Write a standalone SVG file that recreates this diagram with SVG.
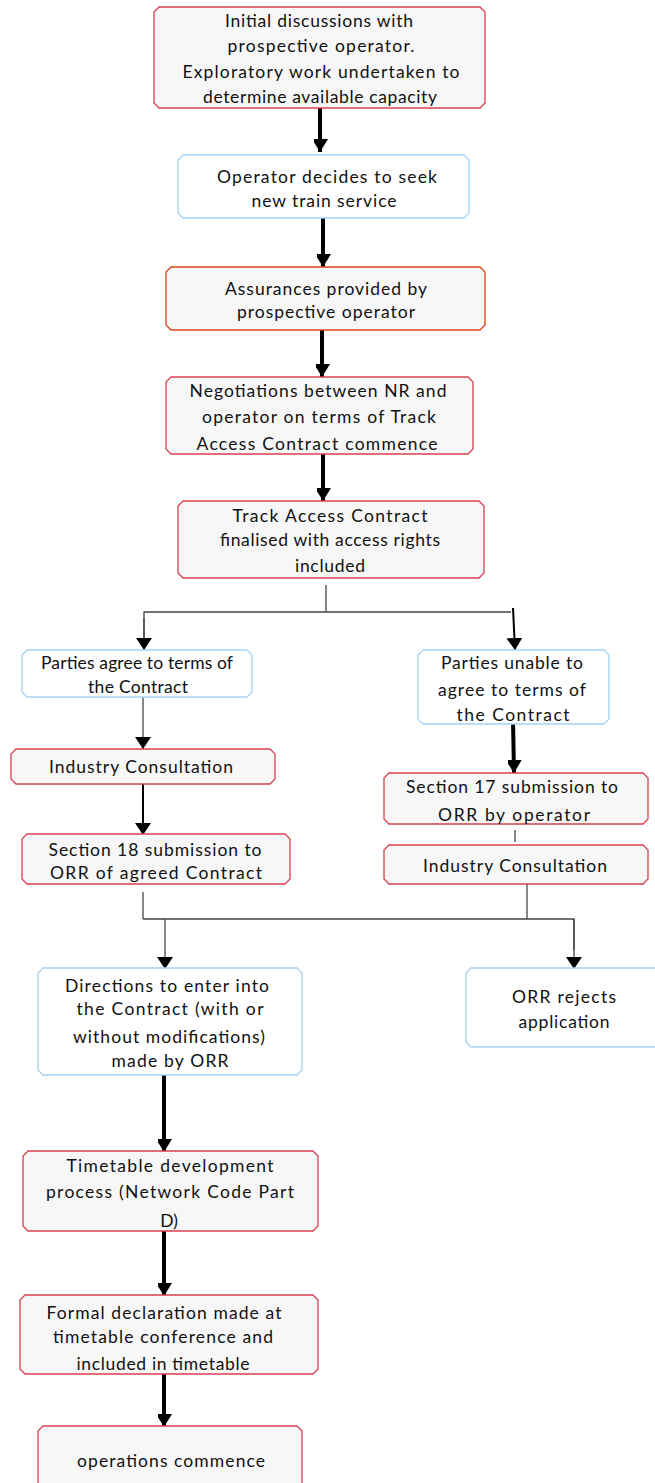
<svg xmlns="http://www.w3.org/2000/svg" width="655" height="1483" viewBox="0 0 655 1483">
<style>
.red{fill:#f7f7f7;stroke:#d9404e;stroke-width:1.3}
.org{fill:#f7f7f7;stroke:#d8441a;stroke-width:1.3}
.blue{fill:#ffffff;stroke:#a6d2f2;stroke-width:1.3}
text{font-family:Lato,"Liberation Sans",sans-serif;font-size:17.5px;fill:#111;text-anchor:middle}
.thick{stroke:#000;stroke-width:4;fill:none}
.thin{stroke:#444;stroke-width:1.3;fill:none}
.mid{stroke:#000;stroke-width:2;fill:none}
</style>
<defs>
<marker id="hb" markerUnits="userSpaceOnUse" markerWidth="18" markerHeight="14" refX="13" refY="8" orient="auto">
<path d="M0,0 L13,8 L0,16 Z" fill="#000"/>
</marker>
<marker id="hs" markerUnits="userSpaceOnUse" markerWidth="14" markerHeight="16" refX="12" refY="8" orient="auto">
<path d="M0,0 L12,8 L0,16 Z" fill="#000"/>
</marker>
</defs>
<rect width="655" height="1483" fill="#fff"/>
<g id="connectors">
<line class="thick" x1="320" y1="108" x2="320" y2="152" marker-end="url(#hb)"/>
<line class="thick" x1="323" y1="216" x2="323" y2="267" marker-end="url(#hb)"/>
<line class="thick" x1="322" y1="330" x2="322" y2="377" marker-end="url(#hb)"/>
<line class="thick" x1="323" y1="447" x2="323" y2="501" marker-end="url(#hb)"/>
<line class="thin" x1="326" y1="585" x2="326" y2="612"/>
<polyline class="thin" points="144,650 144,612 511,612"/>
<line class="thin" x1="144" y1="618" x2="144" y2="650" marker-end="url(#hs)"/>
<line class="mid" x1="513" y1="608" x2="515" y2="650" marker-end="url(#hs)"/>
<line class="thin" x1="143" y1="697" x2="143" y2="749" marker-end="url(#hs)"/>
<line class="mid" x1="143" y1="784" x2="143" y2="835" marker-end="url(#hs)"/>
<line class="thick" x1="513" y1="720" x2="514" y2="773" marker-end="url(#hb)"/>
<line class="thin" x1="515" y1="830" x2="515" y2="842"/>
<line class="thin" x1="143" y1="892" x2="143" y2="919"/>
<line class="thin" x1="527" y1="884" x2="527" y2="919"/>
<polyline class="thin" points="143,919 574,919 574,950"/>
<line class="thin" x1="574" y1="919" x2="574" y2="969" marker-end="url(#hs)"/>
<line class="thin" x1="165" y1="919" x2="165" y2="969" marker-end="url(#hs)"/>
<line class="thick" x1="164" y1="1072" x2="164" y2="1152" marker-end="url(#hb)"/>
<line class="thick" x1="164" y1="1231" x2="164" y2="1296" marker-end="url(#hb)"/>
<line class="thick" x1="164" y1="1374" x2="164" y2="1427" marker-end="url(#hb)"/>
</g>
<g id="n1">
<path class="red" d="M159,7 H480 L485,12 V103 L480,108 H159 L154,103 V12 Z"/>
<text x="319" y="27" textLength="188" lengthAdjust="spacing">Initial discussions with</text>
<text x="321" y="52" textLength="187" lengthAdjust="spacing">prospective operator.</text>
<text x="321" y="78" textLength="277" lengthAdjust="spacing">Exploratory work undertaken to</text>
<text x="320" y="103" textLength="234" lengthAdjust="spacing">determine available capacity</text>
</g>
<g id="n2">
<path class="blue" d="M183,155 H464 L469,160 V213 L464,218 H183 L178,213 V160 Z"/>
<text x="327" y="183" textLength="220" lengthAdjust="spacing">Operator decides to seek</text>
<text x="324" y="207" textLength="145" lengthAdjust="spacing">new train service</text>
</g>
<g id="n3">
<path class="org" d="M171,267 H480 L485,272 V325 L480,330 H171 L166,325 V272 Z"/>
<text x="326" y="295" textLength="202" lengthAdjust="spacing">Assurances provided by</text>
<text x="326" y="318" textLength="178" lengthAdjust="spacing">prospective operator</text>
</g>
<g id="n4">
<path class="red" d="M171,377 H468 L473,382 V449 L468,454 H171 L166,449 V382 Z"/>
<text x="318" y="397" textLength="257" lengthAdjust="spacing">Negotiations between NR and</text>
<text x="319" y="423" textLength="234" lengthAdjust="spacing">operator on terms of Track</text>
<text x="317" y="450" textLength="241" lengthAdjust="spacing">Access Contract commence</text>
</g>
<g id="n5">
<path class="red" d="M183,501 H479 L484,506 V573 L479,578 H183 L178,573 V506 Z"/>
<text x="330" y="522" textLength="195" lengthAdjust="spacing">Track Access Contract</text>
<text x="330" y="546" textLength="220" lengthAdjust="spacing">finalised with access rights</text>
<text x="330" y="572" textLength="70" lengthAdjust="spacing">included</text>
</g>
<g id="n6">
<path class="blue" d="M27,650 H247 L252,655 V692 L247,697 H27 L22,692 V655 Z"/>
<text x="137" y="669" textLength="192" lengthAdjust="spacing">Parties agree to terms of</text>
<text x="138" y="693" textLength="100" lengthAdjust="spacing">the Contract</text>
</g>
<g id="n7">
<path class="red" d="M16,749 H270 L275,754 V779 L270,784 H16 L11,779 V754 Z"/>
<text x="141" y="773" textLength="184" lengthAdjust="spacing">Industry Consultation</text>
</g>
<g id="n8">
<path class="red" d="M27,834 H285 L290,839 V879 L285,884 H27 L22,879 V839 Z"/>
<text x="155" y="856" textLength="213" lengthAdjust="spacing">Section 18 submission to</text>
<text x="156" y="879" textLength="212" lengthAdjust="spacing">ORR of agreed Contract</text>
</g>
<g id="n9">
<path class="blue" d="M423,650 H604 L609,655 V719 L604,724 H423 L418,719 V655 Z"/>
<text x="512" y="669" textLength="142" lengthAdjust="spacing">Parties unable to</text>
<text x="512" y="696" textLength="148" lengthAdjust="spacing">agree to terms of</text>
<text x="513" y="721" textLength="113" lengthAdjust="spacing">the Contract</text>
</g>
<g id="n10">
<path class="red" d="M389,773 H643 L648,778 V819 L643,824 H389 L384,819 V778 Z"/>
<text x="512" y="793" textLength="212" lengthAdjust="spacing">Section 17 submission to</text>
<text x="514" y="821" textLength="152" lengthAdjust="spacing">ORR by operator</text>
</g>
<g id="n11">
<path class="red" d="M389,845 H643 L648,850 V879 L643,884 H389 L384,879 V850 Z"/>
<text x="515" y="872" textLength="184" lengthAdjust="spacing">Industry Consultation</text>
</g>
<g id="n12">
<path class="blue" d="M43,968 H297 L302,973 V1070 L297,1075 H43 L38,1070 V973 Z"/>
<text x="167" y="992" textLength="204" lengthAdjust="spacing">Directions to enter into</text>
<text x="170" y="1015" textLength="187" lengthAdjust="spacing">the Contract (with or</text>
<text x="169" y="1043" textLength="192" lengthAdjust="spacing">without modifications)</text>
<text x="170" y="1067" textLength="117" lengthAdjust="spacing">made by ORR</text>
</g>
<g id="n13">
<path class="blue" d="M471,968 H660 V1047 H471 L466,1042 V973 Z"/>
<text x="564" y="1003" textLength="104" lengthAdjust="spacing">ORR rejects</text>
<text x="564" y="1028" textLength="91" lengthAdjust="spacing">application</text>
</g>
<g id="n14">
<path class="red" d="M28,1151 H313 L318,1156 V1226 L313,1231 H28 L23,1226 V1156 Z"/>
<text x="170" y="1172" textLength="207" lengthAdjust="spacing">Timetable development</text>
<text x="170" y="1198" textLength="248" lengthAdjust="spacing">process (Network Code Part</text>
<text x="169" y="1227">D)</text>
</g>
<g id="n15">
<path class="red" d="M25,1295 H313 L318,1300 V1369 L313,1374 H25 L20,1369 V1300 Z"/>
<text x="164" y="1319" textLength="235" lengthAdjust="spacing">Formal declaration made at</text>
<text x="163" y="1343" textLength="220" lengthAdjust="spacing">timetable conference and</text>
<text x="163" y="1370" textLength="173" lengthAdjust="spacing">included in timetable</text>
</g>
<g id="n16">
<path class="red" d="M43,1426 H297 L302,1431 V1490 H38 V1431 Z"/>
<text x="171" y="1467" textLength="188" lengthAdjust="spacing">operations commence</text>
</g>
</svg>
